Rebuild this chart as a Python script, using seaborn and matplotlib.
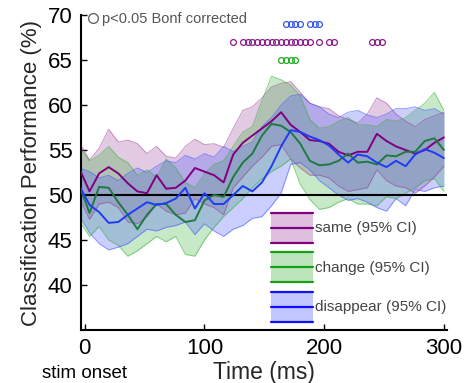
import numpy as np
import pandas as pd
import seaborn as sns
import matplotlib.pyplot as plt
from matplotlib.patches import Rectangle
from matplotlib.lines import Line2D
from matplotlib.legend_handler import HandlerBase
from matplotlib.colors import to_rgb

# Time axis (ms), one sample every 8 ms
time_ms = np.arange(-4, 301, 8)

# Mean classification performance (%) and 95% CI bounds
same_mean = [52.8, 50.4, 52.4, 53.1, 52.4, 51.3, 50.4, 50.2, 52.2, 50.7, 50.8, 51.6, 53.0, 52.6, 52.2, 51.4,
             54.5, 55.8, 56.6, 57.4, 58.2, 59.2, 57.8, 57.0, 56.1, 56.0, 55.7, 54.8, 54.4, 54.8, 54.8, 56.8,
             56.0, 55.4, 55.0, 54.6, 55.0, 55.8, 56.4]
same_hi = [55.7, 53.9, 55.2, 57.3, 55.9, 56.1, 55.7, 54.6, 55.4, 54.3, 54.1, 55.4, 56.2, 55.6, 55.7, 55.3,
           57.4, 59.4, 59.8, 60.8, 62.0, 62.4, 62.6, 61.4, 60.2, 59.8, 59.6, 58.8, 58.4, 58.0, 59.0, 60.8,
           60.2, 59.0, 58.2, 57.6, 58.4, 58.8, 59.2]
same_lo = [49.5, 47.3, 49.0, 49.2, 48.6, 47.0, 46.8, 47.6, 49.0, 48.2, 47.8, 48.0, 49.6, 49.0, 48.6, 47.8,
           50.8, 52.0, 53.2, 54.2, 55.4, 55.6, 54.0, 53.0, 52.2, 52.2, 51.9, 51.0, 50.4, 50.6, 50.8, 52.8,
           51.6, 51.0, 50.8, 50.2, 51.0, 52.0, 53.2]

change_mean = [50.9, 48.0, 50.9, 50.8, 49.2, 47.8, 46.2, 47.8, 49.0, 49.0, 47.8, 47.0, 47.2, 49.4, 50.0, 49.8,
               52.0, 53.6, 54.6, 56.6, 57.9, 57.7, 57.0, 55.7, 53.8, 53.3, 53.4, 53.8, 54.6, 53.6, 53.7, 53.4,
               54.4, 54.3, 54.8, 54.8, 56.0, 56.3, 55.0]
change_hi = [55.2, 53.8, 54.4, 55.4, 54.2, 53.6, 52.2, 52.8, 52.0, 54.0, 53.0, 51.4, 50.8, 52.4, 53.4, 53.8,
             55.4, 57.0, 57.6, 60.5, 63.2, 62.8, 62.2, 61.0, 58.4, 57.4, 57.6, 58.2, 58.6, 57.8, 57.8, 57.6,
             58.4, 58.2, 58.6, 59.4, 60.2, 61.4, 59.4]
change_lo = [47.0, 45.4, 46.5, 45.0, 44.4, 43.2, 43.8, 44.6, 45.4, 44.8, 45.4, 43.4, 43.2, 45.0, 46.4, 47.6,
             48.6, 49.6, 50.8, 51.8, 52.6, 53.2, 54.0, 51.2, 49.5, 48.4, 48.6, 49.2, 49.6, 49.0, 49.0, 48.8,
             49.8, 49.6, 50.2, 50.8, 51.6, 51.8, 50.4]

disappear_mean = [50.9, 48.9, 48.1, 46.9, 47.0, 47.8, 48.5, 49.2, 48.9, 49.1, 49.6, 50.8, 48.5, 50.2, 49.0, 49.0,
                  50.0, 51.0, 50.4, 51.4, 53.2, 55.4, 57.2, 57.0, 56.5, 56.1, 55.5, 54.5, 53.6, 54.5, 54.3, 53.6,
                  53.1, 53.8, 53.2, 54.5, 55.1, 54.7, 54.1]
disappear_hi = [53.0, 52.6, 51.9, 52.2, 51.6, 52.4, 53.0, 52.5, 53.2, 53.8, 53.6, 54.4, 54.0, 54.6, 54.2, 55.4,
                54.8, 55.4, 55.9, 57.6, 58.6, 60.0, 61.0, 61.2, 60.2, 59.8, 59.0, 58.6, 59.2, 59.4, 58.9, 58.6,
                59.0, 59.6, 59.6, 59.8, 59.4, 59.6, 59.0]
disappear_lo = [47.6, 45.8, 44.6, 43.9, 44.2, 44.6, 45.4, 46.2, 46.0, 46.4, 46.6, 47.0, 45.6, 46.8, 46.0, 45.4,
                46.2, 46.6, 47.4, 47.6, 48.8, 50.2, 53.4, 53.6, 52.8, 51.6, 50.8, 50.0, 49.4, 49.6, 49.2, 48.6,
                48.2, 49.6, 48.8, 50.6, 50.4, 50.8, 51.0]

# Significant time points (p<0.05 Bonferroni corrected)
sig_disappear = [168, 172, 176, 180, 188, 192, 196]
sig_same = [124, 132, 136, 140, 144, 148, 152, 156, 160, 164, 168, 172, 176, 180, 184, 188,
            196, 204, 208, 240, 244, 248]
sig_change = [164, 168, 172, 176]
sig_rows = {'disappear': 69.0, 'same': 67.0, 'change': 65.0}

conditions = ['same', 'change', 'disappear']
labels = ['same (95% CI)', 'change (95% CI)', 'disappear (95% CI)']
line_colors = {'same': '#800080', 'change': '#1f7a40', 'disappear': '#1f3cf5'}
fill_colors = {'same': '#9b3d9b', 'change': '#30b030', 'disappear': '#4050ff'}
sig_colors = {'same': '#8b1a8b', 'change': '#22aa22', 'disappear': '#3355ee'}
legend_line_colors = {'same': '#800080', 'change': '#16a016', 'disappear': '#1010ff'}

df = pd.DataFrame({
    'time': np.concatenate([time_ms] * 3),
    'score': same_mean + change_mean + disappear_mean,
    'condition': ['same'] * len(time_ms) + ['change'] * len(time_ms) + ['disappear'] * len(time_ms),
})
bounds = {'same': (same_lo, same_hi), 'change': (change_lo, change_hi), 'disappear': (disappear_lo, disappear_hi)}
sigs = {'same': sig_same, 'change': sig_change, 'disappear': sig_disappear}

sns.set_theme(style='ticks')
plt.rcParams['font.family'] = ['Liberation Sans', 'DejaVu Sans']

fig = plt.figure(figsize=(4.67, 3.83), dpi=100)
ax = fig.add_axes([0.173, 0.1384, 0.784, 0.8224])

# CI bands
for c in conditions:
    lo, hi = bounds[c]
    ax.fill_between(time_ms, lo, hi, facecolor=fill_colors[c], alpha=0.27, linewidth=0)
    ax.plot(time_ms, lo, color=fill_colors[c], lw=0.7, alpha=0.55)
    ax.plot(time_ms, hi, color=fill_colors[c], lw=0.7, alpha=0.55)

ax.axhline(50, color='black', lw=1.5, zorder=3)

# Mean lines
sns.lineplot(data=df, x='time', y='score', hue='condition', palette=line_colors,
             hue_order=conditions, linewidth=1.4, legend=False, ax=ax, zorder=4)

# Significance markers
for c in ['disappear', 'same', 'change']:
    ax.plot(sigs[c], [sig_rows[c]] * len(sigs[c]), ls='', marker='o', ms=4.2,
            mfc='none', mec=sig_colors[c], mew=0.9, zorder=5)

ax.set_xlim(-3.3, 302.5)
ax.set_ylim(35, 70)
ax.set_yticks([40, 45, 50, 55, 60, 65, 70])
ax.set_xticks([0, 100, 200, 300])
ax.tick_params(direction='in', length=4, width=1, labelsize=16, pad=6, colors='black')
sns.despine(ax=ax)
for s in ['left', 'bottom']:
    ax.spines[s].set_linewidth(1.5)
    ax.spines[s].set_color('black')

ax.set_xlabel('Time (ms)', fontsize=16.5, labelpad=1)
ax.set_ylabel('Classification Performance (%)', fontsize=16, labelpad=4)
ax.text(0, -0.137, 'stim onset', transform=ax.get_xaxis_transform(), ha='center', va='center',
        fontsize=13.5, color='black')


class BandHandler(HandlerBase):
    def create_artists(self, legend, orig_handle, xdescent, ydescent, width, height, fontsize, trans):
        fc = orig_handle.get_facecolor()
        lc = to_rgb(orig_handle.get_edgecolor())
        x0, y0 = -xdescent, -ydescent
        arts = [Rectangle((x0, y0), width, height, facecolor=fc, edgecolor='none', transform=trans)]
        for yy in (0, height / 2, height):
            arts.append(Line2D([x0, x0 + width], [y0 + yy] * 2, color=lc, lw=1.6, transform=trans))
        return arts


band_handles = [Rectangle((0, 0), 1, 1, facecolor=fill_colors[c], edgecolor=legend_line_colors[c], alpha=0.32)
                for c in conditions]
leg = ax.legend(band_handles, labels, handler_map={Rectangle: BandHandler()}, loc='upper left',
                bbox_to_anchor=(0.52, 0.372), frameon=False, fontsize=11, handlelength=2.75,
                handleheight=2.64, labelspacing=0.62, handletextpad=0.15, borderpad=0, borderaxespad=0)
for t in leg.get_texts():
    t.set_color('#444444')
ax.add_artist(leg)

sig_handle = Line2D([], [], ls='', marker='o', ms=7, mfc='none', mec='#666666', mew=1)
leg2 = ax.legend([sig_handle], ['p<0.05 Bonf corrected'], loc='upper left', bbox_to_anchor=(0.022, 1.01),
                 frameon=False, fontsize=10.5, handlelength=0.6, handletextpad=0.3, borderpad=0, borderaxespad=0)
for t in leg2.get_texts():
    t.set_color('#555555')

fig.savefig('out.png', dpi=100)
